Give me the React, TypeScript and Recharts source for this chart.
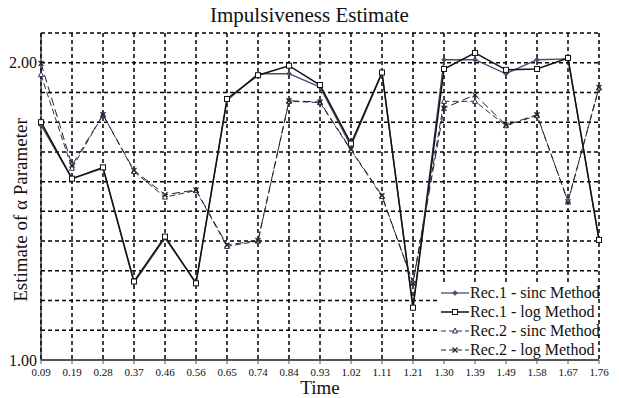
import React from "react";
import {
  CartesianGrid,
  Line,
  LineChart,
  XAxis,
  YAxis,
} from "recharts";

const FONT = "'Liberation Serif', 'Times New Roman', serif";

const times = [
  "0.09", "0.19", "0.28", "0.37", "0.46", "0.56", "0.65", "0.74", "0.84", "0.93",
  "1.02", "1.11", "1.21", "1.30", "1.39", "1.49", "1.58", "1.67", "1.76",
];

const rec1Sinc = [
  1.79, 1.61, 1.645, 1.26, 1.41, 1.26, 1.873, 1.963, 1.963, 1.918,
  1.72, 1.965, 1.176, 2.01, 2.01, 1.963, 2.01, 2.013, 1.404,
];
const rec1Log = [
  1.8, 1.61, 1.648, 1.264, 1.415, 1.258, 1.878, 1.958, 1.99, 1.925,
  1.728, 1.967, 1.176, 1.979, 2.033, 1.976, 1.979, 2.016, 1.404,
];
const rec2Sinc = [
  1.96, 1.645, 1.825, 1.634, 1.548, 1.57, 1.382, 1.4, 1.87, 1.866,
  1.705, 1.55, 1.26, 1.87, 1.87, 1.788, 1.822, 1.535, 1.915,
];
const rec2Log = [
  1.998, 1.655, 1.825, 1.638, 1.556, 1.572, 1.387, 1.402, 1.872, 1.868,
  1.708, 1.553, 1.258, 1.847, 1.892, 1.79, 1.825, 1.532, 1.917,
];

const yTicks = [1.0, 1.1, 1.2, 1.3, 1.4, 1.5, 1.6, 1.7, 1.8, 1.9, 2.0, 2.1];

const data = times.map((t, i) => ({
  t,
  r1s: rec1Sinc[i],
  r1l: rec1Log[i],
  r2s: rec2Sinc[i],
  r2l: rec2Log[i],
}));

type Shape = "diamond" | "square" | "triangle" | "cross";

const SERIES: { key: string; name: string; color: string; dash?: string; width: number; shape: Shape }[] = [
  { key: "r1s", name: "Rec.1 - sinc Method", color: "#4b4b6e", width: 1.3, shape: "diamond" },
  { key: "r1l", name: "Rec.1 - log Method", color: "#111111", width: 1.5, shape: "square" },
  { key: "r2s", name: "Rec.2 - sinc Method", color: "#2c2c5c", dash: "6 3", width: 1, shape: "triangle" },
  { key: "r2l", name: "Rec.2 - log Method", color: "#222222", dash: "8 4", width: 1, shape: "cross" },
];

function Marker({ cx, cy, shape, color }: { cx: number; cy: number; shape: Shape; color: string }) {
  if (cx == null || cy == null) return null;
  if (shape === "diamond") {
    return <path d={`M${cx},${cy - 2.5}L${cx + 2.5},${cy}L${cx},${cy + 2.5}L${cx - 2.5},${cy}Z`} fill={color} stroke={color} strokeWidth={0.6} />;
  }
  if (shape === "square") {
    return <rect x={cx - 2.5} y={cy - 2.5} width={5} height={5} fill="#fff" stroke={color} strokeWidth={1} />;
  }
  if (shape === "triangle") {
    return <path d={`M${cx},${cy - 3}L${cx + 2.5},${cy + 2}L${cx - 2.5},${cy + 2}Z`} fill="#fff" stroke={color} strokeWidth={1} />;
  }
  return (
    <g stroke={color} strokeWidth={1.2}>
      <line x1={cx - 2.5} y1={cy - 2.5} x2={cx + 2.5} y2={cy + 2.5} />
      <line x1={cx - 2.5} y1={cy + 2.5} x2={cx + 2.5} y2={cy - 2.5} />
    </g>
  );
}

function ChartLegend() {
  return (
    <div
      style={{
        position: "absolute",
        left: 440,
        top: 282,
        width: 158,
        height: 77,
        background: "#fff",
        fontFamily: FONT,
        fontSize: 16,
        color: "#111",
        paddingTop: 1,
        boxSizing: "border-box",
      }}
    >
      {SERIES.map((s) => (
        <div key={s.key} style={{ display: "flex", alignItems: "center", height: 19, whiteSpace: "nowrap" }}>
          <svg width={30} height={19} style={{ flexShrink: 0 }}>
            <line x1={1} y1={10} x2={29} y2={10} stroke={s.color} strokeWidth={s.width} strokeDasharray={s.dash ? "5 3" : undefined} />
            <Marker cx={15} cy={10} shape={s.shape} color={s.color} />
          </svg>
          <span>{s.name}</span>
        </div>
      ))}
    </div>
  );
}

export default function App() {
  return (
    <div style={{ position: "absolute", left: 0, top: 0, width: 619, height: 398, background: "#fff", fontFamily: FONT }}>
      <div style={{ position: "absolute", left: 0, width: 619, top: 3, textAlign: "center", fontSize: 21, color: "#111" }}>
        Impulsiveness Estimate
      </div>
      <div
        style={{
          position: "absolute",
          left: 21,
          top: 210,
          transform: "translate(-50%, -50%) rotate(-90deg)",
          whiteSpace: "nowrap",
          fontSize: 19,
          color: "#111",
        }}
      >
        Estimate of α Parameter
      </div>
      <LineChart width={619} height={398} data={data} margin={{ top: 33, right: 20, left: 0, bottom: 0 }}>
        <CartesianGrid stroke="#000" strokeWidth={1.5} strokeDasharray="4 3" horizontalValues={yTicks} />
        <XAxis
          dataKey="t"
          scale="point"
          padding={{ left: 0, right: 0 }}
          height={38}
          interval={0}
          tick={{ fontSize: 11, fill: "#111", fontFamily: FONT }}
          tickSize={4}
          tickMargin={4}
          axisLine={{ stroke: "#555", strokeWidth: 2 }}
          tickLine={{ stroke: "#555" }}
          label={{ value: "Time", position: "insideBottom", offset: 4, fontSize: 19, fill: "#111", fontFamily: FONT }}
        />
        <YAxis
          type="number"
          domain={[1, 2.1]}
          ticks={yTicks}
          width={41}
          interval={0}
          tickFormatter={(v: number) => (Math.abs(v - 1) < 1e-6 || Math.abs(v - 2) < 1e-6 ? v.toFixed(2) : "")}
          tick={{ fontSize: 16, fill: "#111", fontFamily: FONT }}
          tickSize={3}
          tickMargin={1}
          axisLine={{ stroke: "#111", strokeWidth: 1.2 }}
          tickLine={false}
        />
        {SERIES.map((s) => (
          <Line
            key={s.key}
            type="linear"
            dataKey={s.key}
            name={s.name}
            stroke={s.color}
            strokeWidth={s.width}
            strokeDasharray={s.dash}
            isAnimationActive={false}
            dot={(p: any) => <Marker key={`${s.key}-${p.index}`} cx={p.cx} cy={p.cy} shape={s.shape} color={s.color} />}
            activeDot={false}
          />
        ))}
      </LineChart>
      <ChartLegend />
    </div>
  );
}
